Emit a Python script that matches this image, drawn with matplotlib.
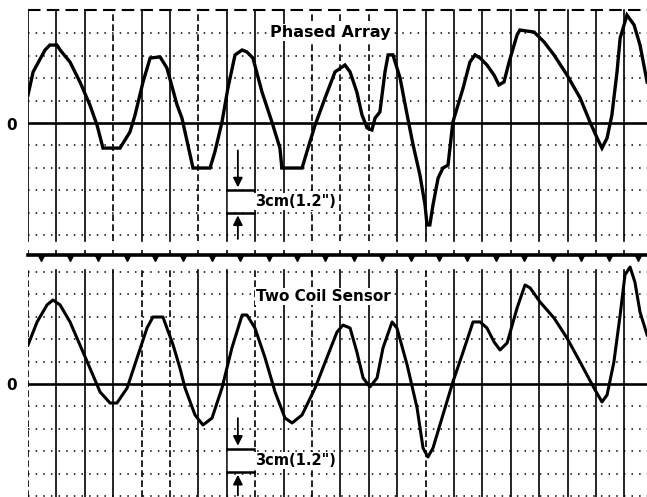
import numpy as np
import matplotlib
matplotlib.use("Agg")
import matplotlib.pyplot as plt

# chart divisions: x = horizontal grid divisions, y = vertical divisions (1 div = 3 cm)
phased_x = [0.00, 0.18, 0.60, 0.77, 1.02, 1.13, 1.48, 1.83, 2.18, 2.43, 2.64, 3.24,
            3.59, 3.77, 4.05, 4.30, 4.65, 4.89, 5.25, 5.42, 5.63, 5.81, 6.41, 6.58,
            6.83, 7.04, 7.29, 7.54, 7.71, 7.92, 8.24, 8.59, 8.87, 8.94, 9.65, 9.86,
            10.11, 10.46, 10.81, 11.16, 11.34, 11.58, 11.76, 11.94, 12.11, 12.22, 12.39,
            12.57, 12.68, 12.85, 13.10, 13.35, 13.56, 13.80, 13.98, 14.05, 14.15, 14.26,
            14.44, 14.61, 14.79, 14.96, 15.32, 15.56, 15.74, 15.92, 16.16, 16.41, 16.58,
            16.76, 16.94, 17.22, 17.32, 17.82, 18.17, 18.52, 18.98, 19.44, 19.79, 20.04,
            20.21, 20.39, 20.56, 20.74, 20.85, 21.09, 21.34, 21.55, 21.80]
phased_y = [1.25, 2.28, 3.26, 3.48, 3.48, 3.26, 2.72, 1.83, 0.80, -0.09, -1.12, -1.12,
            -0.40, 0.36, 1.83, 2.90, 2.95, 2.46, 0.80, 0.22, -0.98, -2.01, -2.01, -1.29,
            0.04, 1.56, 3.04, 3.26, 3.17, 2.90, 1.38, 0.04, -1.12, -2.01, -2.01, -1.12,
            -0.09, 1.12, 2.28, 2.59, 2.28, 1.38, 0.36, -0.22, -0.31, 0.22, 0.49,
            2.28, 3.04, 3.04, 2.01, 0.36, -0.98, -2.32, -3.66, -4.55, -4.55, -3.66,
            -2.46, -2.01, -1.88, 0.04, 1.56, 2.72, 3.04, 2.90, 2.59, 2.14, 1.70,
            1.83, 2.72, 3.93, 4.15, 4.06, 3.62, 3.04, 2.14, 1.12, 0.04, -0.67,
            -1.12, -0.67, 0.36, 2.28, 3.79, 4.82, 4.38, 3.48, 1.83]

coil_x = [0.00, 0.32, 0.67, 0.88, 1.13, 1.48, 1.83, 2.18, 2.54, 2.89, 3.13, 3.49, 3.84,
          4.19, 4.40, 4.75, 5.11, 5.35, 5.53, 5.88, 6.16, 6.48, 6.83, 7.18, 7.54, 7.71,
          7.99, 8.35, 8.70, 9.05, 9.30, 9.65, 10.11, 10.56, 10.88, 11.09, 11.34, 11.58,
          11.80, 12.04, 12.29, 12.50, 12.82, 12.99, 13.35, 13.70, 13.91, 14.08, 14.26,
          14.61, 14.96, 15.32, 15.67, 15.92, 16.16, 16.41, 16.62, 16.87, 17.22, 17.50,
          17.68, 18.03, 18.52, 18.98, 19.44, 19.93, 20.21, 20.39, 20.63, 20.85, 21.02,
          21.20, 21.37, 21.55, 21.80]
coil_y = [1.74, 2.77, 3.53, 3.75, 3.53, 2.77, 1.74, 0.71, -0.36, -0.85, -0.85, -0.18, 1.16,
          2.50, 2.99, 2.99, 1.74, 0.71, -0.18, -1.38, -1.83, -1.52, -0.18, 1.61, 3.08, 3.08,
          2.50, 1.16, -0.36, -1.52, -1.74, -1.38, -0.18, 1.29, 2.32, 2.63, 2.50, 1.43,
          0.27, -0.13, 0.27, 1.61, 2.77, 2.50, 0.85, -1.07, -2.86, -3.26, -2.86,
          -1.38, 0.09, 1.43, 2.77, 2.77, 2.50, 1.88, 1.52, 1.83, 3.39, 4.42,
          4.29, 3.66, 2.95, 2.05, 0.98, -0.18, -0.80, -0.49, 0.98, 3.08, 4.87,
          5.22, 4.55, 3.21, 2.19]

panel_labels = ["Phased Array", "Two Coil Sensor"]
scale_label = '3cm(1.2")'

W, H = 647, 497
DX, DY = 28.4, 22.4  # pixels per division


def px_axes(fig, y0, y1, zero_py):
    ax = fig.add_axes([28 / W, 1 - y1 / H, (W - 28) / W, (y1 - y0) / H])
    ax.set_xlim(0, (W - 28) / DX)
    ax.set_ylim((zero_py - y1) / DY, (zero_py - y0) / DY)
    ax.axis("off")
    return ax


def draw_grid(ax, ytop, ybot, dashed, hlines):
    xs = np.arange(0, 22)
    for i, x in enumerate(xs):
        ls = (0, (4, 2)) if i in dashed else "-"
        ax.plot([x, x], [ybot, ytop], color="black", lw=1.2, ls=ls, zorder=1)
    for y in hlines:
        ax.axhline(y, color="black", lw=1.1, ls=(0, (1, 4)), zorder=1)
    ax.axhline(0, color="black", lw=1.9, zorder=2)


def scale_bar(ax, x, y_hi, y_lo, arrow_top, arrow_bot):
    ax.plot([7.0, 7.95], [y_hi, y_hi], color="black", lw=1.8, zorder=4)
    ax.plot([7.0, 7.95], [y_lo, y_lo], color="black", lw=1.8, zorder=4)
    ax.fill_between([7.05, 7.9], y_lo + 0.05, y_hi - 0.05, color="white", zorder=3)
    ax.annotate("", xy=(x, y_hi), xytext=(x, arrow_top),
                arrowprops=dict(arrowstyle="-|>", color="black", lw=1.3, mutation_scale=14), zorder=5)
    ax.annotate("", xy=(x, y_lo), xytext=(x, arrow_bot),
                arrowprops=dict(arrowstyle="-|>", color="black", lw=1.3, mutation_scale=14), zorder=5)
    ax.text(8.0, (y_hi + y_lo) / 2, scale_label, fontsize=10.5, fontweight="bold",
            va="center", ha="left", zorder=6,
            bbox=dict(facecolor="white", edgecolor="none", pad=0.5))


fig = plt.figure(figsize=(W / 100, H / 100), dpi=100)

# top panel (Phased Array) + separator strip
ax1 = px_axes(fig, 5, 265, 123)
draw_grid(ax1, 5.04, -5.25, dashed=[3, 6, 10, 11, 12], hlines=[4, 3, 2, 1, -1, -2, -3, -4, -5])
ax1.plot([0, 21.8], [5.04, 5.04], color="black", lw=1.5, ls=(0, (6, 3)), zorder=2)
ax1.plot(phased_x, phased_y, color="black", lw=2.4, zorder=5, solid_joinstyle="miter")
ax1.text(10.65, 4.05, panel_labels[0], fontsize=11.5, fontweight="bold", ha="center",
         va="center", zorder=6, bbox=dict(facecolor="white", edgecolor="none", pad=0.8))
scale_bar(ax1, 7.39, -3.0, -4.0, -1.1, -5.3)

sep_y = (123 - 255) / DY
ax1.plot([0, 21.8], [sep_y, sep_y], color="black", lw=2.6, zorder=3, clip_on=False)
ax1.plot(np.arange(0, 22) + 0.47, [sep_y - 0.12] * 22, "v", color="black", ms=4, zorder=3)
ax1.plot(np.arange(0, 22), [sep_y + 0.1] * 22, "|", color="black", ms=5, mew=1.2, zorder=3)

# bottom panel (Two Coil Sensor)
ax2 = px_axes(fig, 265, 497, 384)
draw_grid(ax2, 5.1, -5.05, dashed=[0, 4, 5, 8, 10, 14], hlines=[5, 4, 3, 2, 1, -1, -2, -3, -4, -5])
ax2.plot(coil_x, coil_y, color="black", lw=2.2, zorder=5)
ax2.text(10.4, 3.9, panel_labels[1], fontsize=11, fontweight="bold", ha="center",
         va="center", zorder=6, bbox=dict(facecolor="white", edgecolor="none", pad=0.8))
scale_bar(ax2, 7.39, -2.88, -3.93, -1.4, -5.1)

# zero labels in the left margin
fig.text(12 / W, 1 - 125 / H, "0", fontsize=11, fontweight="bold", ha="center", va="center")
fig.text(12 / W, 1 - 386 / H, "0", fontsize=11, fontweight="bold", ha="center", va="center")

fig.savefig("out.png", dpi=100, facecolor="white")
